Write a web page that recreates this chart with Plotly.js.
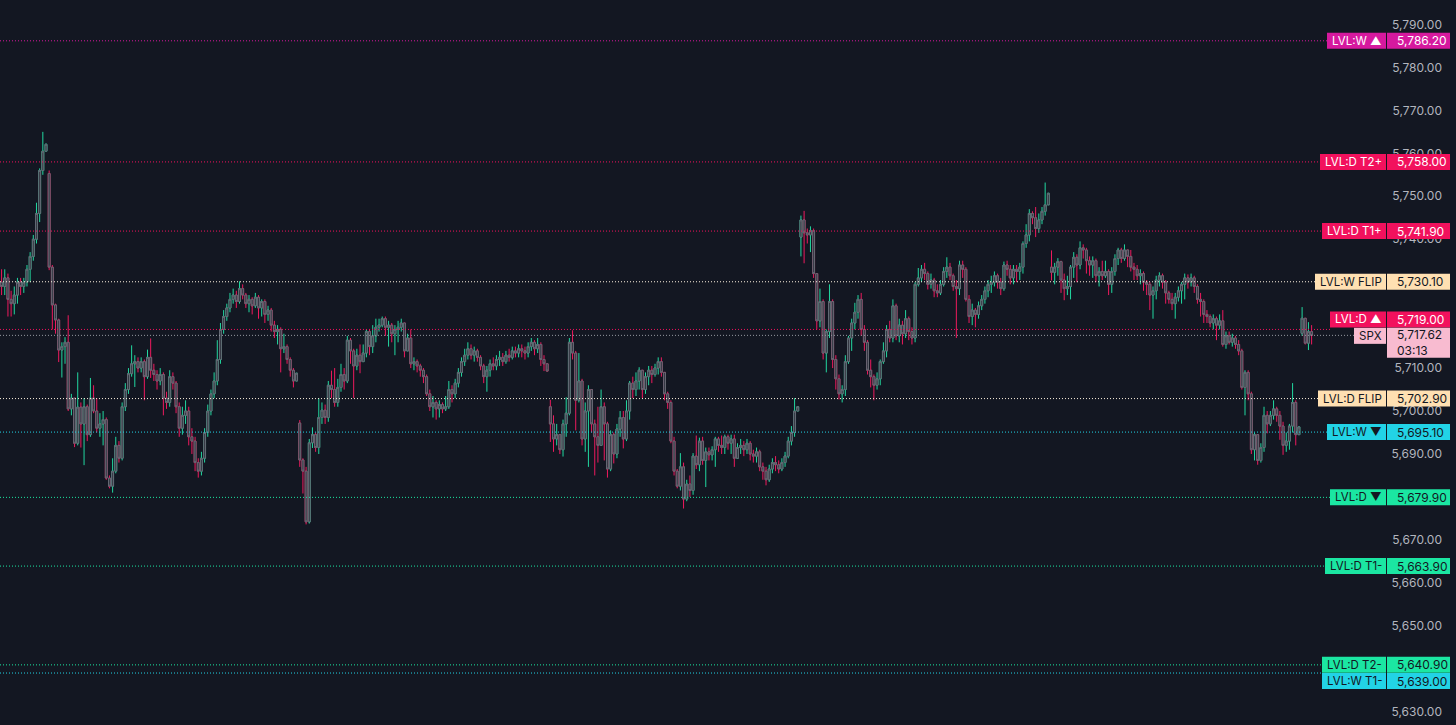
<!DOCTYPE html>
<html><head><meta charset="utf-8">
<script src="https://cdn.plot.ly/plotly-3.0.1.min.js"></script>
<style>html,body{margin:0;padding:0;background:#131722;overflow:hidden}#chart{width:1456px;height:725px}</style>
</head><body><div id="chart"></div><script>
// ---------- DATA (5-minute SPX bars; open = previous close unless a gap) ----------
const s0Close = [5729,5731,5726,5725,5727,5730,5729,5730,5733,5736,5740,5746,5756,5760.5,5762.1];
const s0High  = [5733,5733,5732,5728,5729,5731,5731,5731,5734,5737,5741,5748.5,5756.5,5765,5762.3];
const s0Low   = [5727,5727,5722,5722,5722.5,5725,5727,5727.5,5729,5730,5735,5739,5744,5755,5761.9];

const s1Close = [5733.5,5724.7,5721.2,5714.2,5715,5716,5700.5,5703,5692.5,5700.9,
 5697,5701,5694.5,5703,5700,5696,5697,5698,5684.4,5682.5,
 5686,5692,5689,5701,5705,5708.7,5711,5711.5,5710,5711.5,
 5708,5712.5,5709.5,5708.5,5707,5708.5,5703,5702,5708,5706.5,
 5701,5696,5699,5700,5694,5693,5688,5686,5689,5695,
 5700,5704,5707,5712,5719,5722,5724,5726,5727,5725.5,
 5728.5,5727,5725,5726,5724.5,5726.5,5724,5725.5,5722.5,5723.5,
 5720,5718.5,5719,5714.5,5715,5712,5709.5,5707,5708.8];
const s1High = [5756,5734,5725,5721.5,5716,5717.2,5722.3,5704,5703,5709,
 5702,5703,5701.5,5707.7,5706,5703,5699.5,5700,5698.5,5685,
 5689,5694,5693,5702,5706.5,5710,5715.3,5713,5712.5,5712.5,
 5712,5714.3,5716.9,5711,5709.5,5710,5709,5704.5,5709.5,5709,
 5707,5702,5701,5702.5,5701,5696,5694,5689,5690.5,5696,
 5701.5,5705,5709,5716.5,5720.5,5723.5,5725,5727.5,5728.5,5728,
 5730.2,5729.5,5727.5,5727,5726.5,5727.5,5727,5726,5726,5724.5,
 5724,5721,5720,5719.5,5718,5715.5,5712.5,5710,5708.9];
const s1Low = [5732.8,5719,5718,5711.4,5707.8,5711,5700,5699,5691.6,5692,
 5691.5,5687.4,5693,5694,5699.5,5695,5694,5692,5684,5682,
 5681,5685.5,5688,5688.5,5700,5704,5708,5705.6,5709,5709,
 5702.5,5707.5,5707.7,5707,5705,5706,5699,5700.5,5701,5705,
 5699.5,5694,5694.5,5697,5692,5690,5686,5684.5,5685,5688,
 5694,5699,5703,5706,5711,5718,5721,5723,5725,5724,
 5725,5726,5724,5723,5722.5,5724,5721.5,5722,5720.5,5721,
 5718.5,5717,5715.5,5709,5713.5,5711,5708,5705.5,5708.7];

const s2Close = [5688.6,5686,5674.2,5692.6,5694.5,5691.5,5698.5,5700.2,5698.5,5706,
 5705,5702,5705.5,5708.5,5707,5716.5,5714,5710.5,5713,5711.5,
 5713.5,5718.5,5715,5717.5,5719.5,5720,5721.5,5719.5,5720,5718,
 5719,5719.5,5720.5,5714,5717,5711,5711.5,5710.5,5709.5,5708,
 5704,5701,5702,5700.5,5701.5,5700.5,5701,5705,5704,5706.5,
 5709,5711.5,5713,5714.5,5713,5714,5712.5,5710.5,5708,5709.5,
 5711,5710.5,5712,5712.5,5711.5,5713,5712.5,5714,5713.5,5714.5,
 5714,5713.5,5715,5716,5714.5,5715.5,5712,5711,5709.3];
const s2High = [5697.9,5689,5687,5693.5,5696.2,5695,5703,5702,5701.5,5707,
 5709.4,5710,5707.5,5711,5710,5717.5,5717,5714.5,5714.5,5715.5,
 5715.5,5719,5719,5720,5721.5,5721.5,5722,5722,5721,5720.5,
 5720,5721,5721.5,5719.5,5718,5719,5712.5,5712,5711,5710,
 5708.5,5705,5703.5,5702.5,5702.5,5702,5703.5,5707,5706,5707.5,
 5710,5712.5,5714.5,5716,5715.5,5715,5714.5,5713,5711,5710.5,
 5712,5712.5,5713,5714,5713.5,5714,5714.5,5715,5715,5715.5,
 5715.5,5715,5716,5717,5716.5,5717,5716,5713,5709.4];
const s2Low = [5687,5680.8,5673.6,5673.8,5691.4,5690.5,5690,5697,5697,5697.5,
 5703,5701,5701,5704.5,5705,5706.5,5711,5703,5709.5,5708.8,
 5711.5,5712.5,5713,5713.5,5716,5718.5,5719.5,5717.5,5715,5716,
 5713,5716,5718.5,5712.5,5714,5710,5709.5,5709,5708,5706.5,
 5703.5,5700,5698.5,5698,5698.5,5699.5,5700,5700.5,5702,5703,
 5705.5,5708,5710.5,5712,5712,5711.5,5711.5,5709.5,5706.5,5704.5,
 5708,5709.5,5709.5,5710.5,5710.5,5711,5711.5,5712,5712.5,5712.5,
 5712.5,5712,5712.5,5714,5713,5713.5,5710.5,5709.3,5709.2];

const s3Close = [5697,5693.5,5694.5,5691,5697,5699.5,5716,5713.5,5702.5,5707,
 5693.5,5700,5705,5697,5694,5692,5701,5697,5686.5,5694.5,
 5690,5695.8,5698.5,5693.5,5700,5706.5,5705,5707,5709.5,5705,
 5708,5709.5,5708.5,5710,5711.5,5709,5704,5702,5693,5686,
 5682.5,5687,5679.5,5683,5681.5,5689.5,5687.5,5693,5688.5,5690.5,
 5689.8,5691,5693.5,5692,5691.5,5694,5692.5,5693.5,5689,5691.5,
 5692,5691,5692.5,5690,5689.5,5690.5,5687,5686,5684,5686.5,
 5688,5687.5,5686.5,5688,5689.5,5693,5695,5700,5701];
const s3High = [5702.6,5699,5697,5694,5698,5703.2,5717,5718.8,5714,5713.5,
 5707.5,5702,5706,5705,5698,5701,5705,5702,5697.5,5695.5,
 5695,5697,5700,5700,5702.5,5707,5708,5709,5710.2,5709,
 5709,5710.5,5710.5,5711,5712.5,5712.5,5709,5704.5,5702.5,5694,
 5686.5,5690.2,5688,5684,5685,5690.2,5694.3,5693.8,5694,5691.5,
 5691.5,5691.8,5694,5694,5694.3,5694.5,5694.5,5694.5,5694.5,5692.5,
 5693.5,5693,5693.5,5693,5691,5691.5,5691,5688,5687,5687.5,
 5689,5689.5,5688.5,5689,5690.5,5694,5696.5,5703,5701.1];
const s3Low = [5692.8,5690.5,5692,5690,5689.4,5694,5699,5712,5695.5,5702,
 5692,5690.5,5687,5695,5685,5688,5692,5688.5,5684.5,5686,
 5687.8,5689,5694,5691.3,5693,5698,5703,5703.5,5705,5703,
 5704,5706,5706.5,5708,5708.5,5708,5702.5,5700.5,5692.5,5685,
 5682,5681.5,5677.3,5679,5680,5680.5,5686.5,5686,5687.5,5682.3,
 5688.5,5688.5,5687,5690.5,5690,5690,5691,5690,5687,5689.5,
 5690,5689.5,5690,5688.5,5688,5688,5686,5684,5682.7,5683.5,
 5685.5,5686,5685.5,5686,5687,5689,5692,5694,5700.9];

const s4Close = [5744.5,5741.5,5741,5742,5732,5721,5725.5,5713.5,5718.5,5725.5,
 5712,5707.5,5704,5705,5711.5,5717,5720.5,5723,5726,5719,
 5716,5709.5,5708,5706,5707.5,5711.5,5714,5719,5717,5724.5,
 5717.5,5720,5718,5721.5,5718.5,5717,5729.5,5731,5733,5732,
 5729.5,5730.5,5728,5727.5,5729.5,5732.5,5733.5,5731.5,5729,5728.5,
 5734,5733,5726,5722,5723.5,5722.5,5724.5,5726,5728,5729.5,
 5730,5731.5,5730,5728.5,5734,5733,5731,5733,5732.5,5733.5,
 5739,5741,5746,5745,5742.5,5744.5,5746.5,5748,5750.7];
const s4High = [5745.5,5746.6,5742.5,5743,5742.5,5732,5728.5,5726,5719,5729.5,
 5726,5713,5708.5,5706,5713,5717.5,5721.5,5725.2,5727,5727.5,
 5720,5716.5,5712,5708.5,5709,5712,5716,5720,5721,5726,
 5725,5721.5,5721,5723.5,5722,5719.5,5730,5733.3,5734,5734.5,
 5732.5,5732,5731,5729.5,5730.5,5733.5,5735.8,5734.5,5732,5730.5,
 5735,5735,5733.5,5727,5725,5724,5725.5,5727,5729,5730.5,
 5731.5,5732.5,5732,5731,5734.8,5735,5734,5734,5734,5734.5,
 5739.5,5743.5,5747,5746.5,5747.5,5746,5747.5,5753.2,5750.8];
const s4Low = [5736,5734.4,5739,5737,5731,5719,5719.5,5712,5709,5717,
 5710,5705,5702.7,5702,5703.5,5711,5714,5719,5721.5,5717.5,
 5714,5708.5,5705.5,5702.5,5705,5706,5711,5712.5,5716,5716,
 5716.5,5716,5715.5,5717,5716.5,5715.5,5716,5729,5730,5730.5,
 5728.3,5728.5,5726.5,5726.5,5727,5729,5731,5730.5,5728,5717,
 5727,5731,5725.5,5720.5,5720,5719.5,5721.5,5723.5,5725,5726.5,
 5727.5,5729,5728.5,5727,5728,5731.5,5729.5,5729.5,5730,5730.5,
 5732,5738,5739.5,5743.5,5740.5,5741.5,5743.5,5745.5,5750.6];

const s5Close = [5732.3,5733.5,5734.8,5730.5,5728.5,5729,5733.5,5735.8,5734,5738,
 5737.5,5735,5734,5735,5731.5,5732.5,5731.5,5732.5,5729.5,5732.5,
 5735.5,5737.5,5735.5,5737.5,5736,5733.5,5733,5731.5,5732,5730,
 5729.5,5727,5728,5730.5,5731.5,5730,5727.5,5726,5725,5726.5,
 5728,5729.5,5731,5730,5731,5729,5726,5725.5,5722.5,5722,
 5720.5,5721.5,5720,5721,5715.5,5717.5,5716,5717,5715.5,5714,
 5705.5,5709,5704,5691,5694.5,5688.5,5691.5,5699,5697,5699,
 5700.5,5699,5696.5,5692,5693,5696.5,5702,5694.5,5696.3];
const s5High = [5737.4,5734.5,5735.6,5735,5732,5731.5,5734,5737,5736.5,5739.5,
 5738.8,5738,5736,5736,5735.5,5733.5,5735,5735,5733,5733.5,
 5736.5,5738,5738,5738.8,5737.5,5737.5,5734.5,5734,5733,5732.5,
 5730.5,5730,5729,5731.5,5732.3,5732,5730.5,5728,5727.5,5727.5,
 5729,5730,5732,5731.8,5732,5731.5,5729.5,5727.5,5726,5723.5,
 5722.5,5722.5,5722,5722.5,5723.5,5718.5,5718.5,5718,5717.5,5716.5,
 5714.5,5709.5,5709.5,5704.5,5695,5694,5692.5,5701,5700,5700,
 5702.5,5701,5700,5697.5,5695,5697,5706.5,5702.5,5696.4];
const s5Low = [5730.4,5729.5,5731.5,5727.5,5725.8,5727,5726,5731,5730,5733,
 5735.5,5732,5731.5,5731,5730,5729,5730.5,5731,5727,5727.5,
 5731.5,5734,5734.5,5735,5733.5,5732.5,5730.5,5730.5,5729.5,5728,
 5727,5723.5,5721.5,5726,5729,5728.5,5725,5725,5723.5,5721.5,
 5725.5,5725,5726,5728.5,5729,5727.5,5725,5722,5720.5,5720.5,
 5719.5,5719,5716.5,5719,5715,5714.5,5715.5,5715,5714.5,5713,
 5705,5699,5702.5,5690,5688.5,5687.5,5688,5690.5,5694.8,5696.5,
 5698,5697.5,5693.3,5689.8,5690.5,5691,5695,5692,5696.2];

const s6Close = [5721.6,5715.8,5718.5,5717.62];
const s6High  = [5724.2,5720,5720.7,5720];
const s6Low   = [5717.5,5715.5,5714.2,5715.5];

const gapOpens = {0:5730, 15:5755.3, 94:5697.2, 173:5701, 252:5740.5, 331:5733.5, 410:5718.1};

const closes = [].concat(s0Close, s1Close, s2Close, s3Close, s4Close, s5Close, s6Close);
const highs  = [].concat(s0High, s1High, s2High, s3High, s4High, s5High, s6High);
const lows   = [].concat(s0Low, s1Low, s2Low, s3Low, s4Low, s5Low, s6Low);

const levelPrices = [5786.20, 5758.00, 5741.90, 5730.10, 5719.00, 5702.90, 5695.10, 5679.90, 5663.90, 5640.90, 5639.00];
const levelLabels = ['LVL:W ▲','LVL:D T2+','LVL:D T1+','LVL:W FLIP','LVL:D ▲','LVL:D FLIP','LVL:W ▼','LVL:D ▼','LVL:D T1-','LVL:D T2-','LVL:W T1-'];
const levelKinds  = ['wUp','dUp','dUp','flip','dUp','flip','wDn','dDn','dDn','dDn','wDn'];
const symbol = 'SPX', lastPrice = 5717.62, countdown = '03:13';
// ticks whose labels are not hidden behind a level box
const yTicks = [5630,5650,5660,5670,5690,5700,5710,5740,5750,5760,5770,5780,5790];

// ---------- STYLE ----------
const BG = '#131722';
const W = 1456, H = 725;
const FONT = 'Inter, "Noto Sans", sans-serif';
const kindStyle = {
  wUp:  {bg:'#d6199e', fg:'#ffffff', line:'#d6199e'},
  dUp:  {bg:'#f2115d', fg:'#ffffff', line:'#f2115d'},
  flip: {bg:'#ffe0b2', fg:'#131722', line:'#fff3e0'},
  wDn:  {bg:'#22d3e6', fg:'#131722', line:'#22d3e6'},
  dDn:  {bg:'#1be6a2', fg:'#131722', line:'#1be6a2'}
};
const labelShift = {4: 10, 10: -8};
const VAL_L = 1387, VAL_R = 1450, LAB_R = 1386, BOX_H = 8, PAD = 4.5, LAB_FS = 11.5;

const fmt = v => v.toLocaleString('en-US', {minimumFractionDigits:2, maximumFractionDigits:2});
const xs = closes.map((_, i) => i);
const opens = closes.map((c, i) => (i in gapOpens) ? gapOpens[i] : closes[i-1]);
const bodyTop = closes.map((c, i) => Math.max(c, opens[i]));
const bodyBot = closes.map((c, i) => Math.min(c, opens[i]));

const GREEN = '#22d8a0', RED = '#ee1a5e';
const wicks = {type:'candlestick', x:xs, open:opens, high:highs, low:lows, close:closes,
  increasing:{line:{color:GREEN, width:1}, fillcolor:GREEN},
  decreasing:{line:{color:RED, width:1}, fillcolor:RED},
  whiskerwidth:0, hoverinfo:'none', showlegend:false};
const bodies = {type:'candlestick', x:xs, open:opens, high:bodyTop, low:bodyBot, close:closes,
  increasing:{line:{color:'#646873', width:1}, fillcolor:'#30343f'},
  decreasing:{line:{color:'#646873', width:1}, fillcolor:'#30343f'},
  whiskerwidth:0, hoverinfo:'none', showlegend:false};

const ctx = document.createElement('canvas').getContext('2d');
ctx.font = LAB_FS + 'px Inter';
const px = v => v / W;

const shapes = [], annotations = [];
levelPrices.forEach((p, k) => {
  const st = kindStyle[levelKinds[k]];
  const sh = labelShift[k] || 0;
  const lw = Math.round(ctx.measureText(levelLabels[k]).width + 2 * PAD);
  const labL = LAB_R - lw;
  shapes.push({type:'line', xref:'paper', yref:'y', x0:0, x1:px(labL), y0:p, y1:p,
    line:{color:st.line, width:1, dash:'1px,2px'}});
  shapes.push({type:'rect', xref:'paper', yref:'y', ysizemode:'pixel', yanchor:p,
    x0:px(labL), x1:px(LAB_R), y0:sh-BOX_H, y1:sh+BOX_H, fillcolor:st.bg, line:{width:0}});
  shapes.push({type:'rect', xref:'paper', yref:'y', ysizemode:'pixel', yanchor:p,
    x0:px(VAL_L), x1:px(VAL_R), y0:sh-BOX_H, y1:sh+BOX_H, fillcolor:st.bg, line:{width:0}});
  annotations.push({xref:'paper', yref:'y', x:px((labL+LAB_R)/2), y:p, yshift:sh, xanchor:'center', yanchor:'middle',
    text:levelLabels[k], showarrow:false, font:{family:FONT, size:LAB_FS, color:st.fg}});
  annotations.push({xref:'paper', yref:'y', x:px(1395), y:p, yshift:sh, xanchor:'left', yanchor:'middle',
    text:fmt(p), showarrow:false, font:{family:FONT, size:12, color:st.fg}});
});
{
  const lw = Math.round(ctx.measureText(symbol).width + 2 * PAD);
  shapes.push({type:'line', xref:'paper', yref:'y', x0:0, x1:px(LAB_R - lw), y0:lastPrice, y1:lastPrice,
    line:{color:'#9598a1', width:1, dash:'1px,2px'}});
  shapes.push({type:'rect', xref:'paper', yref:'y', ysizemode:'pixel', yanchor:lastPrice,
    x0:px(LAB_R - lw), x1:px(LAB_R), y0:-8.5, y1:7.5, fillcolor:'#f8bbd0', line:{width:0}});
  shapes.push({type:'rect', xref:'paper', yref:'y', ysizemode:'pixel', yanchor:lastPrice,
    x0:px(VAL_L), x1:px(VAL_R), y0:-22.5, y1:7.5, fillcolor:'#f8bbd0', line:{width:0}});
  annotations.push({xref:'paper', yref:'y', x:px(LAB_R - lw/2), y:lastPrice, yshift:-0.5, xanchor:'center', yanchor:'middle',
    text:symbol, showarrow:false, font:{family:FONT, size:LAB_FS, color:'#131722'}});
  annotations.push({xref:'paper', yref:'y', x:px(1395), y:lastPrice, yshift:-7.5, xanchor:'left', yanchor:'middle',
    text:fmt(lastPrice) + '<br>' + countdown, align:'left', showarrow:false, font:{family:FONT, size:12, color:'#131722'}});
}

const layout = {
  width:W, height:H, margin:{l:0, r:0, t:0, b:0},
  paper_bgcolor:BG, plot_bgcolor:BG, showlegend:false, dragmode:false, boxgap:0.15,
  xaxis:{range:[-0.502, 458.52], visible:false, rangeslider:{visible:false}, fixedrange:true},
  yaxis:{range:[5626.90, 5795.70], side:'right', ticklabelposition:'inside', tickvals:yTicks,
    ticktext:yTicks.map(fmt), tickfont:{family:FONT, size:12, color:'#b2b5be'},
    showgrid:false, zeroline:false, showline:false, ticks:'', fixedrange:true, ticklabelstandoff:11},
  shapes, annotations
};
Plotly.newPlot('chart', [wicks, bodies], layout, {staticPlot:true, displayModeBar:false});
</script></body></html>
